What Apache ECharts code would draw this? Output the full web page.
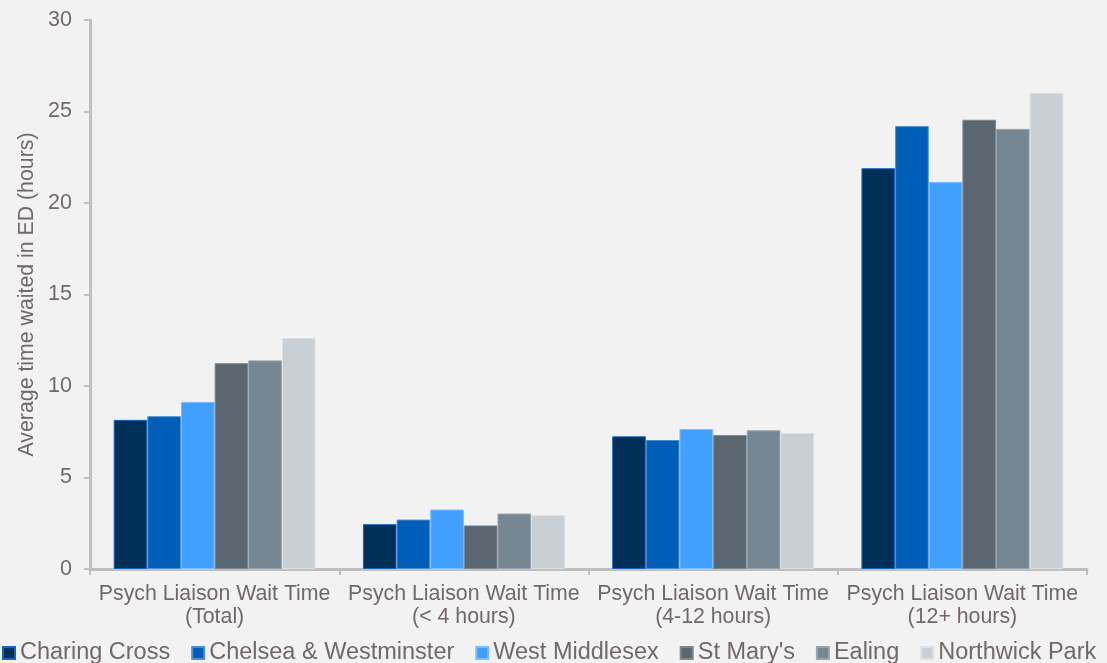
<!DOCTYPE html>
<html><head><meta charset="utf-8">
<script src="https://cdn.jsdelivr.net/npm/echarts@6/dist/echarts.min.js"></script>
<style>html,body{margin:0;padding:0;background:#F2F2F2}#c{width:1107px;height:663px}</style>
</head><body><div id="c"></div>
<script>
const categories = ["Psych Liaison Wait Time\n(Total)", "Psych Liaison Wait Time\n(< 4 hours)", "Psych Liaison Wait Time\n(4-12 hours)", "Psych Liaison Wait Time\n(12+ hours)"];
const seriesNames = ["Charing Cross", "Chelsea & Westminster", "West Middlesex", "St Mary's", "Ealing", "Northwick Park"];
const charingCross = [8.15, 2.45, 7.25, 21.9];
const chelseaWestminster = [8.35, 2.7, 7.05, 24.2];
const westMiddlesex = [9.13, 3.25, 7.65, 21.15];
const stMarys = [11.25, 2.38, 7.32, 24.55];
const ealing = [11.4, 3.03, 7.58, 24.05];
const northwickPark = [12.62, 2.95, 7.43, 26.02];
const yTicks = [0, 5, 10, 15, 20, 25, 30];

const values = [charingCross, chelseaWestminster, westMiddlesex, stMarys, ealing, northwickPark];
const colors = ["#003057", "#005EB8", "#41A0FF", "#5A6670", "#768692", "#C8D0D5"];
const borders = ["#1565C0", "#4A8FD8", "#7CBCFF", "#7D8890", "#97A3AD", "#DCE1E4"];
const textColor = "#726868";

const chart = echarts.init(document.getElementById('c'));
chart.setOption({
  backgroundColor: "#F2F2F2",
  animation: false,
  textStyle: {fontFamily: "Liberation Sans, Arial, sans-serif"},
  grid: {left: 90, right: 20, top: 20, bottom: 94, containLabel: false},
  legend: {
    top: 641, left: 2, padding: 0,
    itemWidth: 12, itemHeight: 12, itemGap: 21,
    icon: "rect",
    textStyle: {fontSize: 23.5, color: textColor, padding: [0,0,0,0]},
    data: seriesNames
  },
  xAxis: {
    type: "category", data: categories,
    axisLine: {lineStyle: {color: "#BFBFBF", width: 3}},
    axisTick: {show: true, length: 6, lineStyle: {color: "#BFBFBF", width: 2}},
    axisLabel: {color: textColor, fontSize: 21.3, lineHeight: 23, margin: 14, interval: 0}
  },
  yAxis: {
    type: "value", min: 0, max: 30, interval: 5,
    name: "Average time waited in ED (hours)", nameLocation: "middle", nameGap: 43,
    nameTextStyle: {color: textColor, fontSize: 21.3},
    axisLine: {show: true, lineStyle: {color: "#BFBFBF", width: 3}},
    axisTick: {show: true, length: 6, lineStyle: {color: "#BFBFBF", width: 2}},
    splitLine: {show: false},
    axisLabel: {color: textColor, fontSize: 21.5, margin: 18, formatter: v => yTicks.includes(v) ? String(v) : ""}
  },
  series: seriesNames.map((n, i) => ({
    name: n, type: "bar", data: values[i],
    barGap: "0%", barCategoryGap: "19%",
    itemStyle: {color: colors[i], borderColor: borders[i], borderWidth: 1}
  }))
});
</script></body></html>
